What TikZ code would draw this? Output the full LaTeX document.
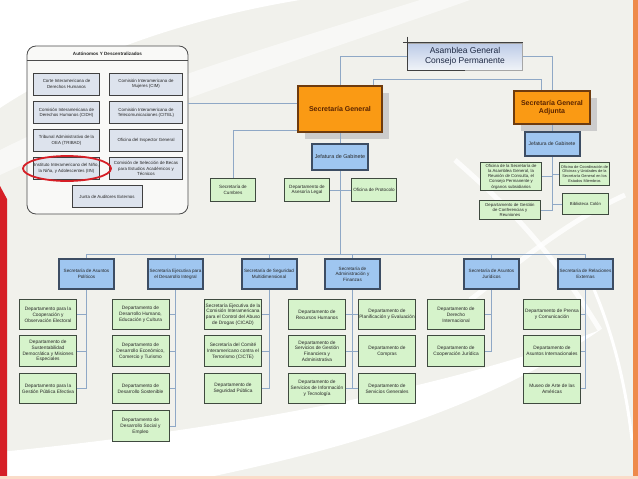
\documentclass[tikz,border=0pt]{standalone}
\usepackage{fontspec}
\setmainfont{Liberation Sans}
\usetikzlibrary{shadows}

\definecolor{bgcol}{HTML}{F1F1EC}
\definecolor{linkcol}{HTML}{8FA8C6}
\definecolor{deptfill}{HTML}{D6F3CB}
\definecolor{deptline}{HTML}{3F4A3F}
\definecolor{secfill}{HTML}{9FC6F0}
\definecolor{secline}{HTML}{3D4D63}
\definecolor{orgfill}{HTML}{FA9A14}
\definecolor{orgline}{HTML}{6E3B0E}
\definecolor{orgtext}{HTML}{5A2400}
\definecolor{autfill}{HTML}{DDE3ED}
\definecolor{oeared}{HTML}{D61F26}
\definecolor{barorange}{HTML}{EE8A4A}
\definecolor{asmtop}{HTML}{BCCBE7}
\definecolor{asmbot}{HTML}{F0F3F8}
\definecolor{asmtext}{HTML}{1F2A44}

\tikzset{
  link/.style={draw=linkcol,line width=0.8pt},
  autgroup/.style={draw=black!70,fill=white!60!bgcol,line width=0.8pt,rounded corners=9pt,
    minimum width=161pt,minimum height=168pt},
  autbox/.style={draw=black!75,fill=autfill,line width=0.7pt,minimum width=66pt,minimum height=22.3pt,
    inner sep=0.5pt,align=center,text=black!85,font=\fontsize{4.4}{5.3}\selectfont},
  dept/.style={draw=deptline,fill=deptfill,line width=0.8pt,minimum width=57.2pt,minimum height=30.4pt,
    inner sep=0.5pt,align=center,text=black!85,font=\fontsize{4.8}{5.8}\selectfont},
  smalldept/.style={dept,minimum width=45pt,minimum height=23pt,font=\fontsize{4.6}{5.6}\selectfont},
  adjdept/.style={dept,font=\fontsize{4.3}{5.2}\selectfont},
  secbox/.style={draw=secline,fill=secfill,line width=2pt,minimum width=55pt,minimum height=30pt,
    inner sep=0.5pt,align=center,text=black!85,font=\fontsize{4.6}{5.6}\selectfont},
  jefbox/.style={secbox,font=\fontsize{5.4}{6.4}\selectfont},
  orgbox/.style={draw=orgline,fill=orgfill,line width=2pt,align=center,text=orgtext,
    font=\bfseries\fontsize{7}{8.5}\selectfont,
    drop shadow={shadow xshift=7pt,shadow yshift=-7pt,fill=black!20,opacity=1}},
  asmbox/.style={draw=black!35,line width=0.6pt,top color=asmtop,bottom color=asmbot,
    minimum width=115pt,minimum height=27pt,align=center,text=asmtext,
    font=\fontsize{8.5}{9.5}\selectfont},
}

\begin{document}
\begin{tikzpicture}[x=1pt,y=-1pt]
% fondo y franjas
\useasboundingbox (0,0) rectangle (638,479);
\fill[bgcol] (0,0) rectangle (638,479);
\fill[white] (0,0) -- (300,0) .. controls (190,18) and (80,55) .. (0,108) -- cycle;
\fill[white,opacity=.55] (0,150) .. controls (120,90) and (260,50) .. (420,0) -- (470,0) .. controls (300,60) and (140,110) .. (0,175) -- cycle;
\fill[white] (0,452) .. controls (200,432) and (430,395) .. (600,330) .. controls (470,420) and (300,458) .. (200,479) -- (0,479) -- cycle;
\draw[white,line width=5pt,opacity=.8] (455,160) .. controls (500,200) and (545,240) .. (600,330);
\draw[white,line width=5pt,opacity=.8] (470,300) .. controls (510,270) and (560,225) .. (625,195);
\draw[white,line width=3pt] (590,280) .. controls (612,330) and (625,380) .. (632,440);
\fill[oeared] (0,186) -- (7,199) -- (7,477) -- (0,477) -- cycle;
\fill[barorange] (633,0) rectangle (638,477);
\fill[barorange!30] (0,476) rectangle (638,479);

% Asamblea y Secretarias
\node[asmbox] (asamblea) at (465,56.5) {Asamblea General\\Consejo Permanente};
\draw[black!75,line width=0.8pt] ([xshift=-4pt]asamblea.north west) -- (asamblea.north east);
\draw[black!75,line width=0.8pt] ([yshift=6pt]asamblea.north west) -- (asamblea.south west) -- (asamblea.south);
\node[orgbox,minimum width=84pt,minimum height=46pt] (sg) at (340,109) {Secretaría General};
\node[orgbox,minimum width=76pt,minimum height=33pt] (sga) at (552,107.5) {Secretaría General\\Adjunta};
\node[jefbox,minimum width=56pt,minimum height=26pt] (jef) at (340,157) {Jefatura de Gabinete};
\node[jefbox,minimum width=55pt,minimum height=24pt,font=\fontsize{5}{6}\selectfont] (jefa) at (552,144) {Jefatura de Gabinete};

% Autonomos
\node[autgroup] (aut) at (107.5,130) {};
\node[font=\bfseries\fontsize{4.6}{5}\selectfont,text=black!85] (auttitle) at (107.5,53.5) {Autónomos Y Descentralizados};
\draw[black!70,line width=0.7pt] ([yshift=-15pt]aut.north west) -- ([yshift=-15pt]aut.north east);
\node[autbox] (corte) at (66.5,84) {Corte Interamericana de\\Derechos Humanos};
\node[autbox,minimum width=73pt] (cim) at (146,84) {Comisión Interamericana de\\Mujeres (CIM)};
\node[autbox] (cidh) at (66.5,112.5) {Comisión Interamericana de\\Derechos Humanos (CIDH)};
\node[autbox,minimum width=73pt] (citel) at (146,112.5) {Comisión Interamericana de\\Telecomunicaciones (CITEL)};
\node[autbox] (tribad) at (66.5,140.5) {Tribunal Administrativo de la\\OEA (TRIBAD)};
\node[autbox,minimum width=73pt] (oig) at (146,140.5) {Oficina del Inspector General};
\node[autbox] (iin) at (66.5,168.5) {Instituto Interamericano del Niño,\\la Niña, y Adolescentes (IIN)};
\node[autbox,minimum width=73pt] (becas) at (146,168.5) {Comisión de Selección de Becas\\para Estudios Académicos y\\Técnicos};
\node[autbox,minimum width=70pt] (junta) at (107,196.5) {Junta de Auditores Externos};
\draw[oeared,line width=1.8pt] (67,168.5) ellipse [x radius=44pt,y radius=12.5pt];

% dependencias de la Secretaria General
\node[smalldept] (cumbres) at (233,190) {Secretaría de\\Cumbres};
\node[smalldept] (asesoria) at (307,190) {Departamento de\\Asesoría Legal};
\node[smalldept] (protocolo) at (374,190) {Oficina de Protocolo};

% dependencias de la Adjunta
\node[adjdept,minimum width=61pt,minimum height=28pt] (ofsag) at (511,176.5) {Oficina de la Secretaría de\\la Asamblea General, la\\Reunión de Consulta, el\\Consejo Permanente y\\órganos subsidiarios};
\node[adjdept,minimum width=50pt,minimum height=23pt,font=\fontsize{3.9}{4.9}\selectfont] (ofcoord) at (584.5,174) {Oficina de Coordinación de\\Oficinas y Unidades de la\\Secretaría General en los\\Estados Miembros};
\node[adjdept,minimum width=61pt,minimum height=19pt] (gestion) at (510,210) {Departamento de Gestión\\de Conferencias y\\Reuniones};
\node[adjdept,minimum width=46pt,minimum height=21pt] (biblio) at (585.5,204) {Biblioteca Colón};

% secretarias
\node[secbox] (pol) at (86.5,274) {Secretaría de Asuntos\\Políticos};
\node[secbox] (sedi) at (175.5,274) {Secretaría Ejecutiva para\\el Desarrollo Integral};
\node[secbox] (ssm) at (269,274) {Secretaría de Seguridad\\Multidimensional};
\node[secbox] (saf) at (352.5,274) {Secretaría de\\Administración y\\Finanzas};
\node[secbox] (saj) at (491.5,274) {Secretaría de Asuntos\\Jurídicos};
\node[secbox] (rel) at (585.5,274) {Secretaría de Relaciones\\Externas};

% departamentos
\node[dept] (pol1) at (48,314.5) {Departamento para la\\Cooperación y\\Observación Electoral};
\node[dept] (pol2) at (48,351) {Departamento de\\Sustentabilidad\\Democrática y Misiones\\Especiales};
\node[dept] (pol3) at (48,388.5) {Departamento para la\\Gestión Pública Efectiva};
\node[dept] (sedi1) at (140.5,314.5) {Departamento de\\Desarrollo Humano,\\Educación y Cultura};
\node[dept] (sedi2) at (140.5,351) {Departamento de\\Desarrollo Económico,\\Comercio y Turismo};
\node[dept] (sedi3) at (140.5,388.5) {Departamento de\\Desarrollo Sostenible};
\node[dept] (sedi4) at (140.5,426) {Departamento de\\Desarrollo Social y\\Empleo};
\node[dept] (ssm1) at (233,314.5) {Secretaría Ejecutiva de la\\Comisión Interamericana\\para el Control del Abuso\\de Drogas (CICAD)};
\node[dept] (ssm2) at (233,351) {Secretaría del Comité\\Interamericano contra el\\Terrorismo (CICTE)};
\node[dept] (ssm3) at (233,388.5) {Departamento de\\Seguridad Pública};
\node[dept] (saf1) at (317,314.5) {Departamento de\\Recursos Humanos};
\node[dept] (saf2) at (317,351) {Departamento de\\Servicios de Gestión\\Financiera y\\Administrativa};
\node[dept] (saf3) at (317,388.5) {Departamento de\\Servicios de Información\\y Tecnología};
\node[dept] (saf4) at (387,314.5) {Departamento de\\Planificación y Evaluación};
\node[dept] (saf5) at (387,351) {Departamento de\\Compras};
\node[dept] (saf6) at (387,388.5) {Departamento de\\Servicios Generales};
\node[dept] (saj1) at (456,314.5) {Departamento de\\Derecho\\Internacional};
\node[dept] (saj2) at (456,351) {Departamento de\\Cooperación Jurídica};
\node[dept] (rel1) at (552,314.5) {Departamento de Prensa\\y Comunicación};
\node[dept] (rel2) at (552,351) {Departamento de\\Asuntos Internacionales};
\node[dept] (rel3) at (552,388.5) {Museo de Arte de las\\Américas};

% conectores
\coordinate (bus) at (340,254);
\draw[link] (asamblea) -| (sg);
\draw[link] (asamblea) -| (sga);
\draw[link] ([xshift=33pt]sg.north) |- ([xshift=-11pt,yshift=11pt]sga.north) -- ([xshift=-11pt]sga.north);
\draw[link] ([yshift=6pt]sg.west) -- ([yshift=6pt]sg.west -| aut.east);
\draw[link] ([yshift=-21pt]sg.west) -| (cumbres.north);
\draw[link] (sg) -- (jef);
\draw[link] (sga) -- (jefa);
\draw[link] (jef) -- (jef |- bus);
\draw[link] (asesoria) -- (protocolo);
\draw[link] (pol |- bus) -- (rel |- bus);
\foreach \s in {pol,sedi,ssm,saf,saj,rel}
  \draw[link] (\s |- bus) -- (\s.north);
\foreach \p/\c in {pol/pol1,pol/pol2,pol/pol3,sedi/sedi1,sedi/sedi2,sedi/sedi3,sedi/sedi4,
    ssm/ssm1,ssm/ssm2,ssm/ssm3,saf/saf1,saf/saf2,saf/saf3,saj/saj1,saj/saj2,rel/rel1,rel/rel2,rel/rel3,
    jefa/ofsag,jefa/gestion}
  \draw[link] (\p.south) |- (\c.east);
\foreach \p/\c in {saf/saf4,saf/saf5,saf/saf6,jefa/ofcoord,jefa/biblio}
  \draw[link] (\p.south) |- (\c.west);
\end{tikzpicture}
\end{document}
